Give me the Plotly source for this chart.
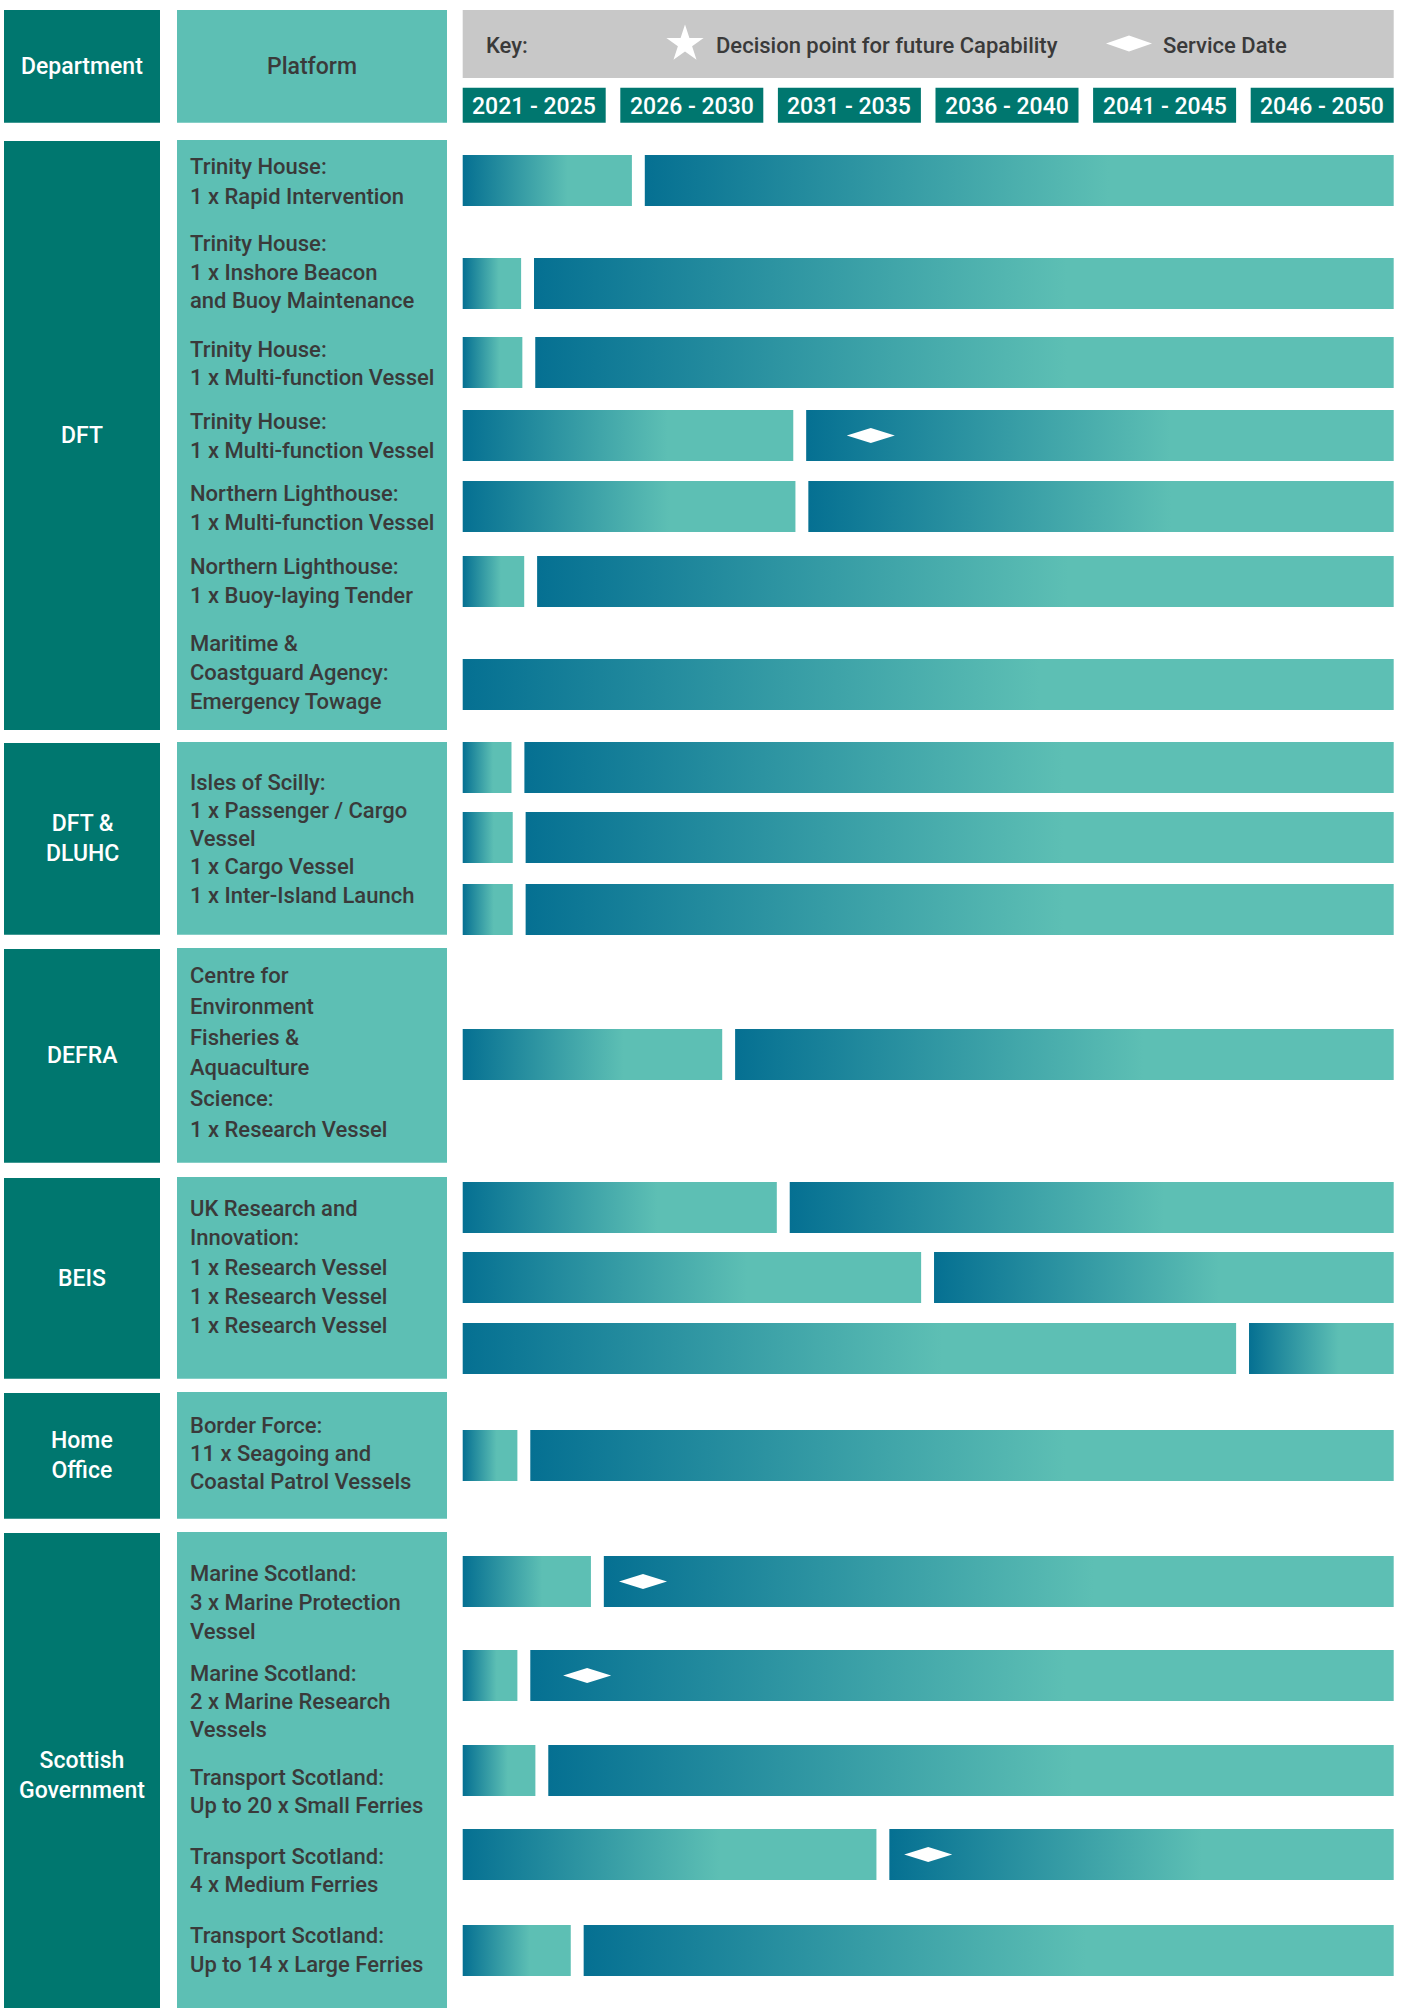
import plotly.graph_objects as go

# ---------------- data ----------------
periods = ["2021 - 2025", "2026 - 2030", "2031 - 2035", "2036 - 2040", "2041 - 2045", "2046 - 2050"]
timeline_start = 2021
timeline_end = 2051

departments = ["DFT", "DFT &amp;<br>DLUHC", "DEFRA", "BEIS", "Home<br>Office", "Scottish<br>Government"]

platforms = [
    "Trinity House:<br>1 x Rapid Intervention",
    "Trinity House:<br>1 x Inshore Beacon<br>and Buoy Maintenance",
    "Trinity House:<br>1 x Multi-function Vessel",
    "Trinity House:<br>1 x Multi-function Vessel",
    "Northern Lighthouse:<br>1 x Multi-function Vessel",
    "Northern Lighthouse:<br>1 x Buoy-laying Tender",
    "Maritime &amp;<br>Coastguard Agency:<br>Emergency Towage",
    "Isles of Scilly:<br>1 x Passenger / Cargo<br>Vessel<br>1 x Cargo Vessel<br>1 x Inter-Island Launch",
    "Centre for<br>Environment<br>Fisheries &amp;<br>Aquaculture<br>Science:<br>1 x Research Vessel",
    "UK Research and<br>Innovation:<br>1 x Research Vessel<br>1 x Research Vessel<br>1 x Research Vessel",
    "Border Force:<br>11 x Seagoing and<br>Coastal Patrol Vessels",
    "Marine Scotland:<br>3 x Marine Protection<br>Vessel",
    "Marine Scotland:<br>2 x Marine Research<br>Vessels",
    "Transport Scotland:<br>Up to 20 x Small Ferries",
    "Transport Scotland:<br>4 x Medium Ferries",
    "Transport Scotland:<br>Up to 14 x Large Ferries",
]

# one entry per timeline row (20 rows)
replacement_year = [2026.66, 2023.09, 2023.13, 2031.86, 2031.93, 2023.19, None,
                    2022.78, 2022.82, 2022.82, 2029.57, 2031.33, 2035.98, 2046.13,
                    2022.97, 2025.34, 2022.97, 2023.55, 2034.54, 2024.69]
service_date = [None, None, None, 2034.15, None, None, None,
                None, None, None, None, None, None, None,
                None, 2026.81, 2025.01, None, 2036.0, None]

key_labels = ["Key:", "Decision point for future Capability", "Service Date"]

# ---------------- layout / style ----------------
W, H = 1402, 2008
TL_X0, TL_X1 = 462.7, 1393.7           # pixel extent of timeline
PPY = (TL_X1 - TL_X0) / (timeline_end - timeline_start)
BAR_H = 51
GAP_PX = 12.9
GRAD_FRAC = 0.62
HEAD_GAP_PX = 14.6

DARK_TEAL = "#00776F"
LIGHT_TEAL = "#5DBFB4"
BAR_DARK = "#057092"
GREY = "#C8C8C8"
TEXT_DARK = "#3A3A3A"
FONT = "Roboto"
WEIGHT = 500

ROW_TOP = [155, 258, 337, 410, 481, 556, 659, 742, 812, 884, 1029,
           1182, 1252, 1323, 1430, 1556, 1650, 1745, 1829, 1925]
GROUP_Y = [(141, 730), (743, 934.7), (949, 1162.7), (1178, 1378.7), (1393, 1518.7), (1533, 2008)]
DEPT_CY = [435.5, 838.8, 1055.8, 1278.3, 1455.8, 1775]
BLOCK_CY = [181.5, 272, 363.6, 436, 507.7, 580.7, 672.2, 838.7, 1052.5, 1267,
            1453.3, 1602.4, 1701.7, 1791.3, 1870.7, 1950.1]
BLOCK_PITCH = [29.2, 28.8, 28.4, 29.2, 29.2, 29.2, 29.2, 28.2, 30.7, 29.1,
               28.2, 28.8, 28.2, 28.4, 28.4, 28.4]
DEPT_X = (4, 160)
PLAT_X = (177, 447)
TEXT_X = 187.5


def px2yr(px):
    return timeline_start + (px - TL_X0) / PPY


gap_y = GAP_PX / PPY

fig = go.Figure()


def add_bar(x0, x1, top):
    fig.add_trace(go.Scatter(
        x=[x0, x1, x1, x0, x0],
        y=[top, top, top + BAR_H, top + BAR_H, top],
        mode="lines", line=dict(width=0), fill="toself",
        fillgradient=dict(type="horizontal",
                          colorscale=[[0, BAR_DARK], [1, LIGHT_TEAL]],
                          start=x0, stop=x0 + GRAD_FRAC * (x1 - x0)),
        hoverinfo="skip", showlegend=False))


def add_diamond(xc, yc, hw_px=24, hh_px=7.5):
    hw = hw_px / PPY
    fig.add_trace(go.Scatter(
        x=[xc - hw, xc, xc + hw, xc, xc - hw],
        y=[yc, yc - hh_px, yc, yc + hh_px, yc],
        mode="lines", line=dict(width=0), fill="toself", fillcolor="white",
        hoverinfo="skip", showlegend=False))


for i, top in enumerate(ROW_TOP):
    r = replacement_year[i]
    if r is None:
        add_bar(timeline_start, timeline_end, top)
    else:
        add_bar(timeline_start, r - gap_y / 2, top)
        add_bar(r + gap_y / 2, timeline_end, top)
for i, top in enumerate(ROW_TOP):
    if service_date[i] is not None:
        add_diamond(service_date[i], top + BAR_H / 2)

# key icons
fig.add_trace(go.Scatter(x=[px2yr(685)], y=[44], mode="markers",
                         marker=dict(symbol="star", size=28, color="white", line=dict(width=0)),
                         hoverinfo="skip", showlegend=False))
add_diamond(px2yr(1129), 43.5, 23, 8)

shapes = []
annotations = []


def box(x0px, x1px, y0, y1, color):
    shapes.append(dict(type="rect", xref="paper", yref="y",
                       x0=x0px / W, x1=x1px / W, y0=y0, y1=y1,
                       fillcolor=color, line=dict(width=0), layer="below"))


def text(xpx, y, s, color, size, anchor="center"):
    annotations.append(dict(xref="paper", yref="y", x=xpx / W, y=y, text=s,
                            showarrow=False, xanchor=anchor, yanchor="middle",
                            align=anchor if anchor != "center" else "center",
                            font=dict(family=FONT, size=size, color=color, weight=WEIGHT)))


# header
box(*DEPT_X, 10, 122.7, DARK_TEAL)
box(*PLAT_X, 10, 122.7, LIGHT_TEAL)
box(TL_X0, TL_X1, 10, 78, GREY)
text(sum(DEPT_X) / 2, 66, "Department", "white", 23)
text(sum(PLAT_X) / 2, 66, "Platform", TEXT_DARK, 23)
text(484.5, 45, key_labels[0], TEXT_DARK, 22, "left")
text(713.7, 45, key_labels[1], TEXT_DARK, 22, "left")
text(1161, 45, key_labels[2], TEXT_DARK, 22, "left")

# period boxes
n = len(periods)
head_gap = HEAD_GAP_PX / PPY
bw = ((timeline_end - timeline_start) - (n - 1) * head_gap) / n
for i, p in enumerate(periods):
    x0 = timeline_start + i * (bw + head_gap)
    x1 = x0 + bw
    shapes.append(dict(type="rect", xref="x", yref="y", x0=x0, x1=x1, y0=87.7, y1=122.7,
                       fillcolor=DARK_TEAL, line=dict(width=0), layer="below"))
    annotations.append(dict(xref="x", yref="y", x=(x0 + x1) / 2, y=106, text=p, showarrow=False,
                            xanchor="center", yanchor="middle",
                            font=dict(family=FONT, size=23, color="white", weight=WEIGHT)))

# department + platform group boxes
for g, (y0, y1) in enumerate(GROUP_Y):
    box(*DEPT_X, y0, y1, DARK_TEAL)
    box(*PLAT_X, y0 - 1, y1, LIGHT_TEAL)
    text(sum(DEPT_X) / 2, DEPT_CY[g], departments[g], "white", 23)

# platform labels, one annotation per line for exact line pitch
for b, s in enumerate(platforms):
    lines = s.split("<br>")
    k = len(lines)
    for j, ln in enumerate(lines):
        y = BLOCK_CY[b] + (j - (k - 1) / 2) * BLOCK_PITCH[b]
        text(TEXT_X, y, ln, TEXT_DARK, 22, "left")

fig.update_layout(
    width=W, height=H, margin=dict(l=0, r=0, t=0, b=0),
    paper_bgcolor="white", plot_bgcolor="white",
    xaxis=dict(range=[px2yr(0), px2yr(W)], visible=False, fixedrange=True),
    yaxis=dict(range=[H, 0], visible=False, fixedrange=True),
    shapes=shapes, annotations=annotations, showlegend=False,
)

fig.write_html("out.html", config={"displayModeBar": False},
               post_script="document.body.style.margin='0';document.body.style.overflow='hidden';")
